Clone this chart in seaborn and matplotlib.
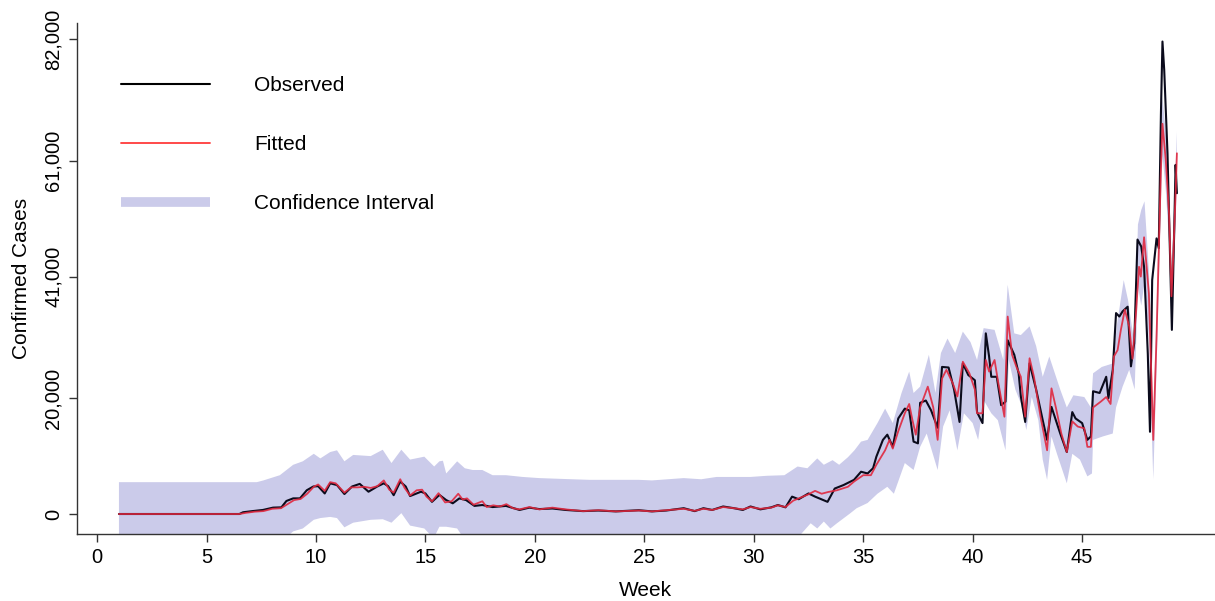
import matplotlib
matplotlib.use("Agg")
import matplotlib.pyplot as plt
from matplotlib.lines import Line2D
import seaborn as sns
import numpy as np
import pandas as pd

# ---------------- data ----------------
obs_week = [1.0, 6.5, 6.67, 7.1, 7.58, 8.04, 8.42, 8.65, 8.96, 9.27,
            9.58, 9.88, 10.1, 10.4, 10.65, 10.96, 11.3, 11.65, 12.0, 12.4,
            12.8, 13.1, 13.3, 13.55, 13.85, 14.1, 14.3, 14.8, 15.0, 15.3,
            15.64, 15.95, 16.25, 16.55, 16.86, 17.24, 17.6, 18.07, 18.68, 19.3,
            19.75, 20.2, 20.8, 21.4, 22.2, 22.9, 23.7, 24.75, 25.35, 26.0,
            26.8, 27.3, 27.7, 28.1, 28.6, 29.1, 29.5, 29.85, 30.3, 30.8,
            31.1, 31.45, 31.75, 32.05, 32.5, 32.8, 33.37, 33.7, 34.1, 34.58,
            34.9, 35.2, 35.45, 35.6, 35.9, 36.1, 36.35, 36.6, 36.9, 37.1,
            37.3, 37.5, 37.6, 37.86, 38.1, 38.4, 38.6, 38.9, 39.15, 39.4,
            39.55, 39.8, 40.1, 40.2, 40.45, 40.6, 40.75, 40.85, 41.1, 41.3,
            41.5, 41.6, 41.9, 42.1, 42.2, 42.4, 42.6, 42.9, 43.2, 43.4,
            43.6, 43.8, 44.0, 44.3, 44.55, 44.7, 45.0, 45.24, 45.4, 45.5,
            45.8, 46.1, 46.2, 46.4, 46.55, 46.7, 46.85, 47.08, 47.23, 47.38,
            47.53, 47.7, 47.83, 48.0, 48.1, 48.2, 48.4, 48.5, 48.6, 48.67,
            48.75, 48.9, 49.05, 49.1, 49.2, 49.27, 49.33]
obs_cases = [0, 0, 300, 500, 700, 1100, 1150, 2250, 2700, 2700,
             4100, 4750, 4800, 3550, 5300, 5000, 3450, 4750, 5200, 3850,
             4750, 5300, 4800, 3250, 5600, 4750, 3100, 3850, 3550, 2100,
             3300, 2400, 1850, 2700, 2400, 1400, 1550, 1200, 1400, 700,
             1100, 850, 950, 700, 500, 600, 450, 650, 450, 600,
             1000, 500, 1000, 700, 1300, 1000, 700, 1300, 800, 1150,
             1550, 1150, 3000, 2550, 3550, 3000, 2100, 4400, 5000, 5900,
             7300, 7000, 7900, 9900, 12800, 13700, 11600, 16500, 18200, 17900,
             12500, 12200, 19200, 19600, 17900, 14900, 25400, 25300, 21500, 15900,
             26000, 24000, 23100, 17600, 15700, 31200, 27200, 23700, 23700, 18800,
             19400, 30000, 27500, 24300, 20300, 15900, 26000, 21500, 16200, 12800,
             18500, 16200, 13900, 10700, 17600, 16500, 15700, 12800, 13400, 21200,
             20900, 23700, 20000, 24900, 34700, 34100, 35000, 35800, 25500, 29500,
             47400, 46200, 42700, 27700, 14200, 40400, 47600, 45900, 69200, 81600,
             76700, 62300, 39300, 31800, 47900, 60300, 55400]

fit_week = [1.0, 6.5, 6.8, 7.2, 7.6, 8.0, 8.4, 8.7, 9.0, 9.3,
            9.6, 9.9, 10.1, 10.4, 10.65, 10.9, 11.3, 11.6, 11.9, 12.2,
            12.5, 12.8, 13.1, 13.35, 13.55, 13.85, 14.05, 14.3, 14.6, 14.85,
            15.05, 15.3, 15.6, 15.9, 16.2, 16.5, 16.7, 16.9, 17.2, 17.6,
            17.8, 18.1, 18.4, 18.7, 19.0, 19.3, 19.75, 20.2, 20.8, 21.4,
            22.2, 22.9, 23.7, 24.75, 25.35, 26.0, 26.8, 27.3, 27.7, 28.1,
            28.6, 29.1, 29.5, 29.85, 30.3, 30.8, 31.1, 31.45, 31.8, 32.05,
            32.5, 32.8, 33.1, 33.4, 33.8, 34.3, 34.58, 35.0, 35.35, 35.6,
            36.0, 36.2, 36.35, 36.6, 36.9, 37.1, 37.25, 37.4, 37.6, 37.95,
            38.2, 38.4, 38.6, 38.8, 39.1, 39.3, 39.55, 39.85, 40.1, 40.2,
            40.45, 40.6, 40.75, 41.0, 41.15, 41.45, 41.6, 41.8, 42.0, 42.2,
            42.4, 42.6, 42.8, 43.1, 43.4, 43.6, 43.8, 44.05, 44.3, 44.55,
            44.8, 45.1, 45.24, 45.4, 45.5, 45.85, 46.1, 46.3, 46.45, 46.62,
            46.77, 46.95, 47.15, 47.3, 47.46, 47.6, 47.68, 47.83, 48.05, 48.25,
            48.4, 48.6, 48.67, 48.82, 48.97, 49.08, 49.17, 49.27, 49.33]
fit_cases = [0, 0, 200, 400, 500, 900, 1000, 1700, 2400, 2600,
             3500, 4700, 5100, 4000, 5500, 5300, 3700, 4600, 4600, 4700,
             4500, 4800, 5800, 4200, 3700, 6000, 4500, 3200, 4100, 4200,
             3000, 2200, 3600, 2000, 2200, 3500, 2500, 2700, 1600, 2200,
             1200, 1500, 1300, 1700, 1000, 800, 1200, 800, 1100, 800,
             500, 650, 450, 600, 450, 650, 900, 550, 900, 700,
             1200, 1000, 800, 1200, 900, 1100, 1500, 1200, 2300, 2700,
             3400, 4000, 3500, 3800, 4100, 4700, 5600, 6700, 6700, 8500,
             11000, 12800, 11300, 14300, 17400, 19000, 16200, 13700, 18400, 22000,
             18400, 12800, 23400, 24900, 22500, 20300, 26300, 24300, 21500, 17400,
             17400, 26600, 24600, 26600, 23100, 16800, 34100, 27500, 25400, 23700,
             16800, 26900, 23700, 16800, 11000, 21700, 18400, 13900, 10700, 16000,
             15100, 14800, 11600, 11600, 18400, 19400, 20200, 19000, 27200, 28300,
             31800, 35300, 32400, 26800, 34700, 42700, 41000, 47800, 38100, 12800,
             30600, 59500, 67400, 61200, 52000, 37600, 45100, 55400, 62300]

ci_up_week = [1.0, 7.3, 7.6, 8.35, 8.96, 9.4, 9.9, 10.2, 10.65, 10.96,
              11.3, 11.7, 12.5, 13.05, 13.45, 13.9, 14.3, 14.95, 15.4, 15.64,
              15.8, 15.95, 16.45, 16.8, 17.16, 17.6, 18.07, 18.68, 19.44, 20.2,
              21.7, 22.5, 24.75, 25.35, 26.8, 27.6, 28.3, 29.85, 30.6, 31.4,
              32.0, 32.45, 32.9, 33.2, 33.6, 33.9, 34.3, 34.6, 34.9, 35.2,
              35.65, 36.0, 36.35, 36.75, 37.1, 37.3, 37.6, 38.0, 38.3, 38.55,
              38.85, 39.2, 39.55, 39.9, 40.2, 40.5, 41.0, 41.4, 41.6, 41.9,
              42.2, 42.6, 42.9, 43.2, 43.5, 44.0, 44.3, 44.6, 45.1, 45.4,
              45.5, 45.9, 46.4, 46.6, 46.9, 47.1, 47.4, 47.55, 47.7, 47.85,
              48.05, 48.25, 48.4, 48.6, 48.67, 48.82, 48.97, 49.08, 49.17, 49.27,
              49.33]
ci_upper = [5500, 5500, 5800, 6700, 8500, 9100, 10400, 9600, 10700, 11000,
            9100, 10200, 10000, 11100, 8800, 11100, 9400, 9900, 8200, 9100,
            9200, 7000, 9100, 7900, 7600, 7600, 6700, 6700, 6400, 6200,
            6000, 5900, 5900, 5800, 6200, 6000, 6400, 6400, 6600, 6700,
            8200, 7900, 9600, 8500, 9300, 8500, 9800, 11000, 12500, 12800,
            15700, 18200, 15700, 20900, 24600, 20900, 22000, 27500, 20900, 27800,
            30300, 27800, 31500, 29700, 26600, 32100, 31800, 26600, 39600, 31200,
            30900, 32400, 29000, 23700, 27200, 21500, 18400, 20500, 20200, 18400,
            24300, 25400, 26000, 32900, 40400, 36900, 29000, 50000, 52500, 54000,
            42000, 17000, 35000, 64000, 72000, 66000, 56500, 42000, 50000, 60000,
            66000]

ci_lo_week = [1.0, 7.6, 8.35, 8.96, 9.4, 9.9, 10.2, 10.65, 10.96, 11.3,
              11.7, 12.5, 13.05, 13.45, 13.9, 14.3, 14.95, 15.2, 15.4, 15.64,
              15.95, 16.45, 16.8, 17.16, 31.8, 32.6, 32.9, 33.2, 33.5, 33.8,
              34.4, 34.7, 35.2, 35.65, 36.1, 36.4, 36.9, 37.3, 37.6, 37.9,
              38.4, 38.65, 38.95, 39.3, 39.6, 40.0, 40.25, 40.5, 40.85, 41.15,
              41.5, 41.65, 41.95, 42.2, 42.45, 42.7, 43.0, 43.2, 43.4, 43.6,
              43.85, 44.3, 44.55, 44.9, 45.24, 45.45, 45.5, 45.95, 46.4, 46.55,
              46.85, 47.15, 47.4, 47.55, 47.7, 47.85, 48.05, 48.25, 48.4, 48.6,
              48.67, 48.82, 48.97, 49.08, 49.17, 49.27, 49.33]
ci_lower = [-5500, -5500, -5000, -3000, -2500, -1000, -700, -500, -700, -2300,
            -1500, -1000, -900, -1500, 150, -2000, -2500, -3500, -4000, -2200,
            -2200, -2500, -4500, -5000, -5000, -1600, -2500, -1300, -2500, -1600,
            100, 1000, 1900, 3500, 4700, 3500, 8800, 7600, 11600, 13900,
            7600, 15100, 17900, 11000, 17400, 15700, 12800, 19700, 17400, 16200,
            11000, 26600, 21500, 19100, 14500, 20200, 16200, 9400, 5900, 13400,
            10400, 5300, 10400, 9400, 6500, 7000, 12800, 13400, 13900, 18400,
            22000, 24900, 21500, 39300, 36000, 40000, 30000, 6000, 25000, 54000,
            62000, 56000, 47000, 33000, 40000, 50000, 58000]

x_ticks = [0, 5, 10, 15, 20, 25, 30, 35, 40, 45]
y_ticks = [0, 20000, 41000, 61000, 82000]
y_tick_labels = ["0", "20,000", "41,000", "61,000", "82,000"]
legend_labels = ["Observed", "Fitted", "Confidence Interval"]

assert len(obs_week) == len(obs_cases)
assert len(fit_week) == len(fit_cases)
assert len(ci_up_week) == len(ci_upper)
assert len(ci_lo_week) == len(ci_lower)

# ---------------- styling ----------------
sns.set_theme(style="ticks")
plt.rcParams["font.family"] = ["Liberation Sans", "DejaVu Sans"]
plt.rcParams["text.color"] = "black"
plt.rcParams["axes.labelcolor"] = "black"
plt.rcParams["xtick.color"] = "black"
plt.rcParams["ytick.color"] = "black"

band_color = "#CBCBEA"
obs_color = "#0b0b1c"
fit_color = "#E0283F"

fig = plt.figure(figsize=(12.15, 6.01), dpi=100)
ax = fig.add_axes([76.7 / 1215, 1 - 534 / 601, 1 - 76.7 / 1215, (534 - 23) / 601])

# confidence band polygon (upper edge then lower edge reversed)
poly_x = list(ci_up_week) + list(ci_lo_week[::-1])
poly_y = list(ci_upper) + list(ci_lower[::-1])
ax.fill(poly_x, poly_y, color=band_color, linewidth=0, zorder=1)

obs_df = pd.DataFrame({"week": obs_week, "cases": obs_cases})
fit_df = pd.DataFrame({"week": fit_week, "cases": fit_cases})
sns.lineplot(data=obs_df, x="week", y="cases", ax=ax, color=obs_color,
             linewidth=1.5, estimator=None, sort=False, zorder=3)
sns.lineplot(data=fit_df, x="week", y="cases", ax=ax, color=fit_color,
             linewidth=1.3, alpha=0.9, estimator=None, sort=False, zorder=4)

ax.set_xlim(-0.93, 51.07)
ax.set_ylim(-3454, 84800)
ax.set_xticks(x_ticks)
ax.set_xticklabels([str(v) for v in x_ticks], fontsize=14.5)
ax.set_yticks(y_ticks)
ax.set_yticklabels(y_tick_labels, fontsize=14.5, rotation=90, va="center")

for side in ["top", "right"]:
    ax.spines[side].set_visible(False)
for side in ["left", "bottom"]:
    ax.spines[side].set_color("#333333")
    ax.spines[side].set_linewidth(1.0)
ax.tick_params(axis="both", length=6, width=1.0, color="#333333",
               labelcolor="black", pad=4)

ax.set_xlabel("Week", fontsize=15, labelpad=10, color="black")
ax.set_ylabel("Confirmed Cases", fontsize=15, labelpad=9, color="black")

handles = [Line2D([], [], color="black", linewidth=1.5),
           Line2D([], [], color="#FF3A3A", linewidth=1.3),
           Line2D([], [], color=band_color, linewidth=7, solid_capstyle="butt")]
leg = ax.legend(handles, legend_labels, loc="upper left",
                bbox_to_anchor=((121 - 76.7) / 1138.3, (534 - 76) / 511),
                frameon=False, fontsize=15, handlelength=4.25, handletextpad=2.15,
                labelspacing=1.92, borderpad=0, borderaxespad=0)
for t in leg.get_texts():
    t.set_color("black")

fig.savefig("out.png", dpi=100)
